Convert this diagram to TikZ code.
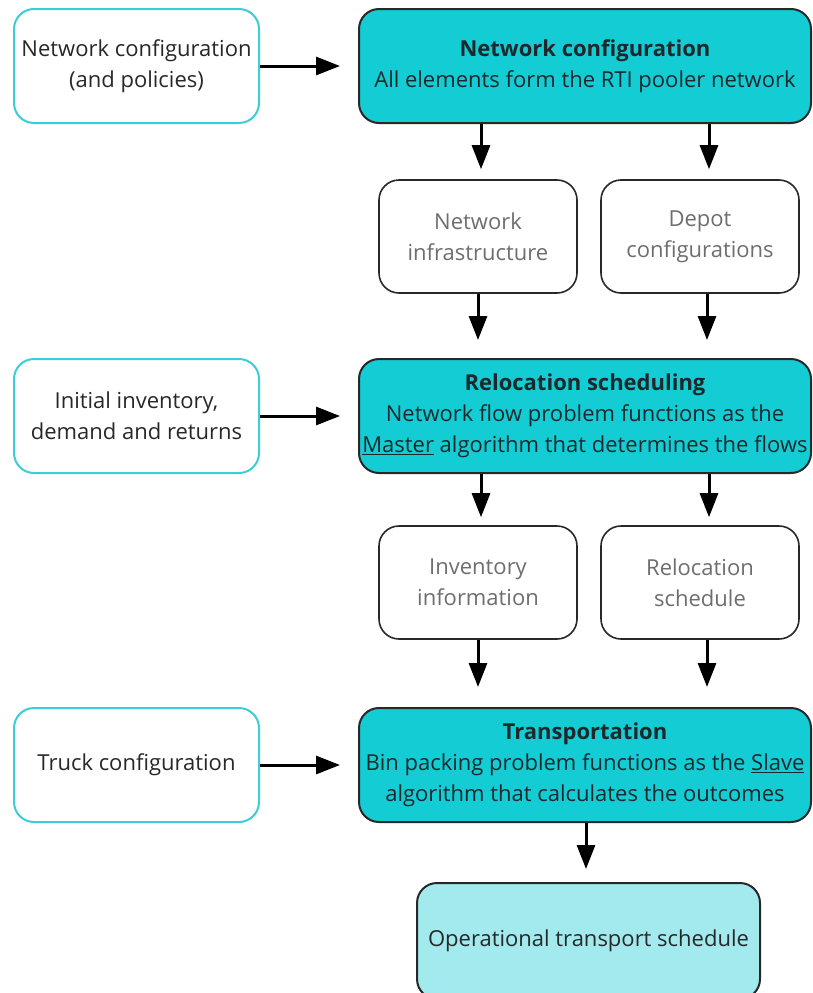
\documentclass[tikz,border=0pt]{standalone}
\usepackage{fontspec}
\setmainfont{Open Sans}
\usetikzlibrary{arrows.meta,calc}
\definecolor{mainfill}{RGB}{20,204,212}
\definecolor{softfill}{RGB}{162,234,238}
\definecolor{inborder}{RGB}{60,205,214}
\definecolor{darkline}{RGB}{40,40,40}
\definecolor{maintext}{RGB}{28,40,44}
\definecolor{bodytext}{RGB}{40,40,40}
\definecolor{subtext}{RGB}{110,110,110}
\begin{document}
\begin{tikzpicture}[x=1pt,y=-1pt,
  box/.style={rounded corners=20pt, align=center, inner sep=0pt,
    font=\fontsize{22}{31}\selectfont},
  inbox/.style={box, draw=inborder, line width=2pt, fill=white, text=bodytext,
    minimum width=245pt, minimum height=114pt},
  mainbox/.style={box, draw=darkline, line width=2pt, fill=mainfill, text=maintext,
    minimum width=452pt, minimum height=114pt},
  subbox/.style={box, draw=darkline, line width=1.6pt, fill=white, text=subtext,
    minimum width=198pt, minimum height=113pt},
  outbox/.style={box, draw=darkline, line width=2pt, fill=softfill, text=bodytext,
    minimum width=343pt, minimum height=116pt},
  arr/.style={line width=3pt, -{Triangle[length=24pt,width=18pt]}}]
\useasboundingbox (0,0) rectangle (812,993);
\clip (0,0) rectangle (812,993);

% inputs on the left
\node[inbox] (in1) at (136.5,66) {Network configuration\\(and policies)};
\node[inbox] (in2) at (136.5,416) {Initial inventory,\\demand and returns};
\node[inbox] (in3) at (136.5,765) {Truck configuration};

% main stages
\node[mainbox] (m1) at (585,66) {\textbf{Network configuration}\\All elements form the RTI pooler network};
\node[mainbox] (m2) at (585,416) {\textbf{Relocation scheduling}\\Network flow problem functions as the\\\makebox[0pt]{\underline{Master} algorithm that determines the flows}};
\node[mainbox] (m3) at (585,765) {\textbf{Transportation}\\\makebox[0pt]{Bin packing problem functions as the \underline{Slave}}\\algorithm that calculates the outcomes};

% intermediate results
\node[subbox] (s1) at (478,236.5) {Network\\infrastructure};
\node[subbox] (s2) at (700,236.5) {Depot\\configurations};
\node[subbox] (s3) at (478,582.5) {Inventory\\information};
\node[subbox] (s4) at (700,582.5) {Relocation\\schedule};

% final output
\node[outbox] (out) at (588.5,941) {Operational transport schedule};

% inputs into the stages
\draw[arr, shorten >=18pt] (in1) -- (m1);
\draw[arr, shorten >=18pt] (in2) -- (m2);
\draw[arr, shorten >=18pt] (in3) -- (m3);

% stage 1 -> intermediate results -> stage 2
\draw[arr, shorten >=10pt] ($(m1.south -| s1)+(3,0)$) -- ($(s1.north)+(3,0)$);
\draw[arr, shorten >=10pt] ($(m1.south -| s2)+(9,0)$) -- ($(s2.north)+(9,0)$);
\draw[arr, shorten >=18pt] (s1.south) -- (s1.south |- m2.north);
\draw[arr, shorten >=18pt] ($(s2.south)+(7,0)$) -- ($(s2.south |- m2.north)+(7,0)$);

% stage 2 -> intermediate results -> stage 3
\draw[arr, shorten >=8pt] ($(m2.south -| s3)+(3,0)$) -- ($(s3.north)+(3,0)$);
\draw[arr, shorten >=8pt] ($(m2.south -| s4)+(9,0)$) -- ($(s4.north)+(9,0)$);
\draw[arr, shorten >=20pt] (s3.south) -- (s3.south |- m3.north);
\draw[arr, shorten >=20pt] ($(s4.south)+(7,0)$) -- ($(s4.south |- m3.north)+(7,0)$);

% stage 3 -> output
\draw[arr, shorten >=13pt] ($(m3.south)+(1,0)$) -- ($(m3.south |- out.north)+(1,0)$);
\end{tikzpicture}
\end{document}
